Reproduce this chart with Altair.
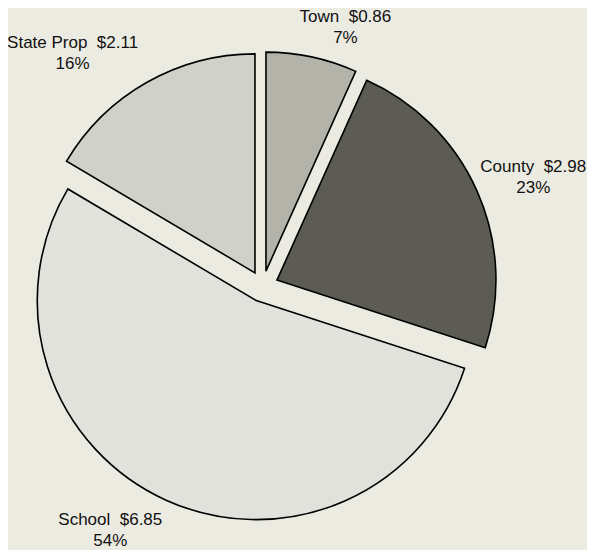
import altair as alt
import pandas as pd

# ---- data ----
categories = ["Town", "County", "School", "State Prop"]
amounts = [0.86, 2.98, 6.85, 2.11]
percents = ["7%", "23%", "54%", "16%"]
order = [0, 1, 2, 3]

# ---- style ----
fills = ["#b3b3aa", "#5d5c54", "#e1e2db", "#d0d1c9"]
BG = "#ecebe2"
CX, CY = 254.7, 278.4      # pie centre (px, chart coords)
RADIUS = 219
EXPLODE = 15.6
LABEL_R = 285
label_nudge = {"Town": (23, 19), "County": (10, 6), "School": (-35, -16), "State Prop": (-49, 14)}

df = pd.DataFrame({
    "cat": categories,
    "amt": amounts,
    "pct": percents,
    "ord": order,
})
df["label"] = [f"{c}\u00a0 ${a:.2f}\n{p}" for c, a, p in zip(categories, amounts, percents)]

base = alt.Chart(df).transform_joinaggregate(
    total="sum(amt)"
).transform_window(
    cum="sum(amt)", sort=[alt.SortField("ord")], frame=[None, 0]
).transform_calculate(
    t0="(datum.cum - datum.amt) / datum.total * 2 * PI",
    t1="datum.cum / datum.total * 2 * PI",
).transform_calculate(
    mid="(datum.t0 + datum.t1) / 2"
).transform_calculate(
    px=f"{CX} + {EXPLODE} * sin(datum.mid)",
    py=f"{CY} - {EXPLODE} * cos(datum.mid)",
    lx=f"{CX} + {LABEL_R} * sin(datum.mid)",
    ly=f"{CY} - {LABEL_R} * cos(datum.mid)",
)

arcs = base.mark_arc(stroke="black", strokeWidth=1.6, strokeJoin="miter").encode(
    x=alt.X("px:Q", scale=None, axis=None),
    y=alt.Y("py:Q", scale=None, axis=None),
    theta=alt.Theta("t0:Q", scale=None),
    theta2="t1:Q",
    radius=alt.value(RADIUS),
    color=alt.Color("cat:N", scale=alt.Scale(domain=categories, range=fills), legend=None),
)

label_layers = []
for c in categories:
    dx, dy = label_nudge[c]
    label_layers.append(
        base.transform_filter(alt.datum.cat == c).mark_text(
            font="Liberation Sans", fontSize=17, lineBreak="\n", lineHeight=21,
            align="center", baseline="middle", color="#111111", dx=dx, dy=dy - 10,
        ).encode(
            x=alt.X("lx:Q", scale=None, axis=None),
            y=alt.Y("ly:Q", scale=None, axis=None),
            text="label:N",
        )
    )

chart = alt.layer(arcs, *label_layers).properties(
    width=579, height=542, background=BG, padding=0,
    autosize=alt.AutoSizeParams(type="none"),
).configure_view(stroke=None)

chart.save("out.html", embed_options={"renderer": "svg", "actions": False})
